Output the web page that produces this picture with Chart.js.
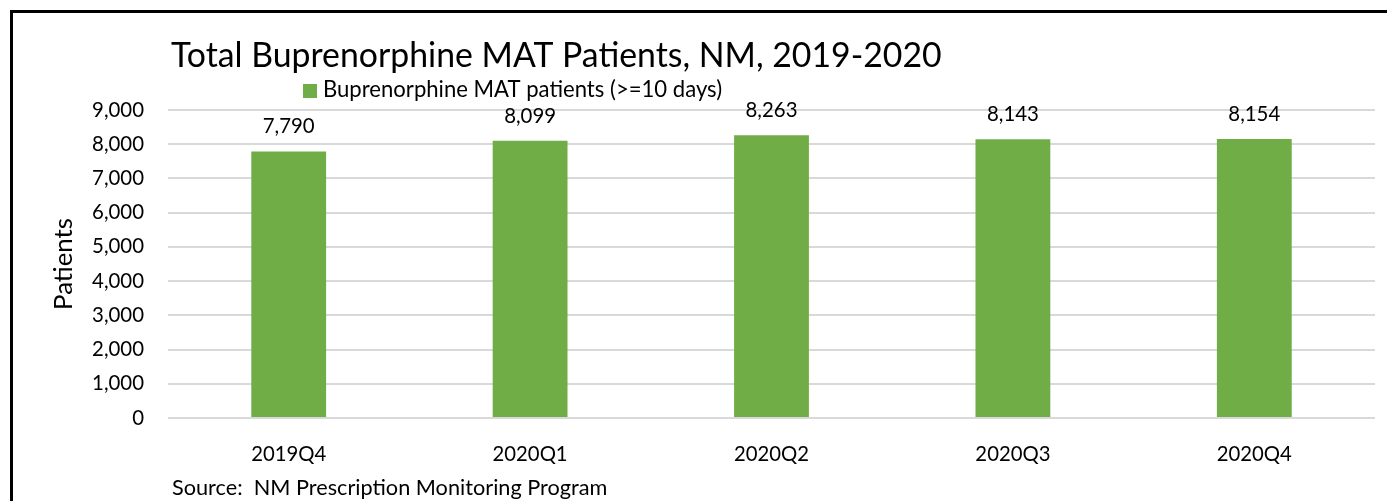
<!DOCTYPE html>
<html>
<head>
<meta charset="utf-8">
<title>Total Buprenorphine MAT Patients</title>
<script src="https://cdn.jsdelivr.net/npm/chart.js@4.4.1/dist/chart.umd.min.js"></script>
<style>
    html, body { margin: 0; padding: 0; background: #fff; }
    #wrap { position: relative; width: 1387px; height: 501px; overflow: hidden; }
    #chart { position: absolute; left: 0; top: 0; }
    #frame {
        position: absolute; left: 10px; top: 10px; right: -20px; bottom: -20px;
        border-top: 3px solid #000; border-left: 3px solid #000;
        pointer-events: none;
    }
</style>
</head>
<body>
<div id="wrap">
    <canvas id="chart" width="1387" height="501"></canvas>
    <div id="frame"></div>
</div>
<script>
// chart data
const chartTitle = 'Total Buprenorphine MAT Patients, NM, 2019-2020';
const seriesLabel = 'Buprenorphine MAT patients (>=10 days)';
const sourceNote = 'Source:  NM Prescription Monitoring Program';
const axisTitle = 'Patients';
const quarters = ['2019Q4', '2020Q1', '2020Q2', '2020Q3', '2020Q4'];
const patients = [7790, 8099, 8263, 8143, 8154];
const yMax = 9000;
const yStep = 1000;

const FONT = 'Lato, "Open Sans", sans-serif';
const BAR_GREEN = '#70AD47';
const GRID_GREY = '#d9d9d9';

// pick a font size so the text comes out at a given width
const measureCtx = document.createElement('canvas').getContext('2d');
function fitSize(text, width) {
    measureCtx.font = '100px ' + FONT;
    return Math.round(100 * width / measureCtx.measureText(text).width * 10) / 10;
}

const titleSize = fitSize(chartTitle, 770);
const legendSize = fitSize(seriesLabel, 400);
const sourceSize = fitSize(sourceNote, 436);
const tickSize = fitSize('9,000', 52);
const catSize = fitSize('2020Q1', 75);
const axisTitleSize = fitSize(axisTitle, 92);

const fmt = v => Number(v).toLocaleString('en-US');

// value labels above each bar
const barValues = {
    id: 'barValues',
    afterDatasetsDraw(chart) {
        const ctx = chart.ctx;
        const meta = chart.getDatasetMeta(0);
        ctx.save();
        ctx.font = tickSize + 'px ' + FONT;
        ctx.fillStyle = '#000';
        ctx.textAlign = 'center';
        ctx.textBaseline = 'alphabetic';
        meta.data.forEach((bar, i) => {
            ctx.fillText(fmt(chart.data.datasets[0].data[i]), bar.x, bar.y - 18);
        });
        ctx.restore();
    }
};

// title, legend and source line sit at fixed spots like the original slide
const slideText = {
    id: 'slideText',
    afterDraw(chart) {
        const ctx = chart.ctx;
        ctx.save();
        ctx.fillStyle = '#000';
        ctx.textAlign = 'left';
        ctx.textBaseline = 'alphabetic';

        ctx.font = titleSize + 'px ' + FONT;
        ctx.fillText(chartTitle, 171, 67);

        ctx.fillStyle = chart.data.datasets[0].backgroundColor;
        ctx.fillRect(303, 84, 14, 14);
        ctx.fillStyle = '#000';
        ctx.font = legendSize + 'px ' + FONT;
        ctx.fillText(chart.data.datasets[0].label, 323, 97);

        ctx.font = sourceSize + 'px ' + FONT;
        ctx.fillText(sourceNote, 172, 495);
        ctx.restore();
    }
};

new Chart(document.getElementById('chart'), {
    type: 'bar',
    data: {
        labels: quarters,
        datasets: [{
            label: seriesLabel,
            data: patients,
            backgroundColor: BAR_GREEN,
            borderWidth: 0,
            categoryPercentage: 1,
            barPercentage: 0.31
        }]
    },
    options: {
        responsive: false,
        animation: false,
        devicePixelRatio: 1,
        layout: {
            padding: { left: 20, right: 12, top: 110, bottom: 13 }
        },
        scales: {
            x: {
                grid: { display: false },
                border: { display: false },
                ticks: {
                    color: '#000',
                    font: { family: FONT, size: catSize },
                    padding: 28 - catSize * 0.6,
                    maxRotation: 0
                },
                afterFit(scale) { scale.height = 70; }
            },
            y: {
                min: 0,
                max: yMax,
                grid: { color: GRID_GREY, lineWidth: 2, drawTicks: false },
                border: { display: false },
                ticks: {
                    stepSize: yStep,
                    color: '#000',
                    font: { family: FONT, size: tickSize },
                    padding: 24,
                    callback: v => fmt(v)
                },
                title: {
                    display: true,
                    text: axisTitle,
                    color: '#000',
                    font: { family: FONT, size: axisTitleSize },
                    padding: { top: 44 - axisTitleSize * 0.6, bottom: 0 }
                },
                afterFit(scale) { scale.width = 148; }
            }
        },
        plugins: {
            legend: { display: false },
            title: { display: false },
            tooltip: { enabled: false }
        }
    },
    plugins: [barValues, slideText]
});
</script>
</body>
</html>
